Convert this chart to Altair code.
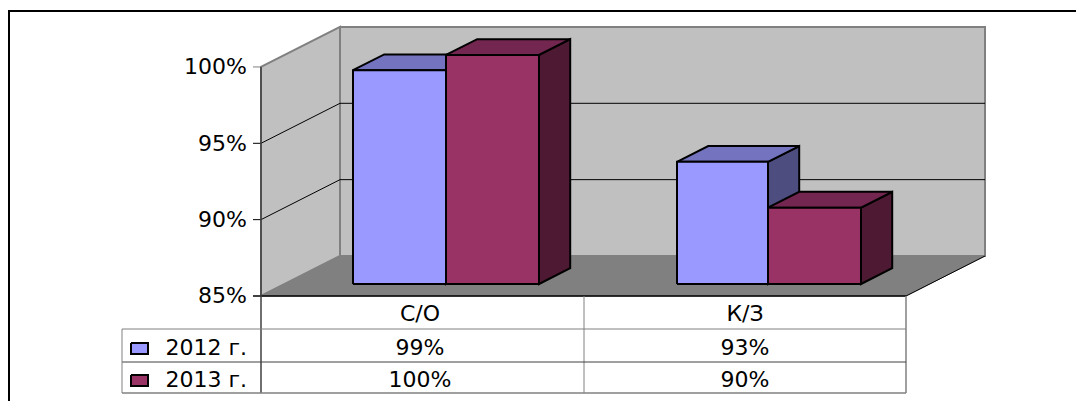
import altair as alt
import pandas as pd

# ---- data
categories = ["С/О", "К/З"]
series = ["2012 г.", "2013 г."]
values_2012 = [99, 93]
values_2013 = [100, 90]
axis_ticks = [85, 90, 95, 100]
fill_front = {"2012 г.": "#9999FF", "2013 г.": "#993366"}
fill_top = {"2012 г.": "#7373BF", "2013 г.": "#732650"}
fill_side = {"2012 г.": "#4D4D80", "2013 г.": "#4D1933"}

# ---- chart-space geometry: x in canvas units, y in percent
W, H = 1068, 393
PX = 15.27                 # canvas units per percent
Y_TOP = 85 + (296 - 8) / PX
Y_BOT = 85 - (8 + H - 296) / PX
LEFT, RIGHT = 253.0, 898.0  # front floor edge (canvas x)
BACK_DX, BACK_DY = 79.0, 40.0 / PX  # projection of full depth


def rowy(page_y):
    return 85 - (page_y - 296) / PX


def proj(x, v, d):
    return x + d * BACK_DX, v + d * BACK_DY


polys = []
def poly(pts, fill="transparent", stroke="#000000", sw=1.0):
    pid = len(polys)
    polys.append(pid)
    rows = []
    for i, (x, y) in enumerate(pts):
        rows.append(dict(pid=f"{pid:03d}", i=i, x=x, y=y, fill=fill, stroke=stroke, sw=sw))
    return rows


rows = []
# walls and floor
rows += poly([proj(LEFT, 85, 0), proj(LEFT, 100, 0), proj(LEFT, 100, 1), proj(LEFT, 85, 1), proj(LEFT, 85, 0)],
             "#C0C0C0", "#808080", 2)
rows += poly([proj(LEFT, 85, 1), proj(LEFT, 100, 1), proj(RIGHT, 100, 1), proj(RIGHT, 85, 1), proj(LEFT, 85, 1)],
             "#C0C0C0", "#808080", 2)
rows += poly([proj(LEFT, 85, 0), proj(LEFT, 85, 1), proj(RIGHT, 85, 1), proj(RIGHT, 85, 0), proj(LEFT, 85, 0)],
             "#808080", "#808080", 1)
rows += poly([proj(RIGHT, 85, 1), proj(RIGHT, 85, 0)], stroke="#000000", sw=1)
# gridlines
for t in axis_ticks[1:3]:
    rows += poly([(LEFT - 8, t), proj(LEFT, t, 0), proj(LEFT, t, 1), proj(RIGHT, t, 1)], sw=1)
rows += poly([(LEFT - 8, 85), (RIGHT, 85)], sw=1.5)
rows += poly([(LEFT - 8, 100), (LEFT, 100)], stroke="#808080", sw=1)

# bars
D0, D1 = 0.3, 0.695
BAR_X = [[321.3, 414.3, 507.3], [645.3, 736.3, 829.3]]
for c in range(2):
    for s, vals in enumerate([values_2012, values_2013]):
        name = series[s]
        v = vals[c]
        x0, x1 = BAR_X[c][s], BAR_X[c][s + 1]
        a = proj(x0, v, D0); b = proj(x1, v, D0); e = proj(x1, v, D1); f = proj(x0, v, D1)
        g = proj(x0, 85, D0); h = proj(x1, 85, D0); k = proj(x1, 85, D1)
        rows += poly([b, e, k, h, b], fill_side[name], "#000000", 2)
        rows += poly([a, f, e, b, a], fill_top[name], "#000000", 2)
        rows += poly([g, a, b, h, g], fill_front[name], "#000000", 2)

# data table lines
T1, T2, T3, T4 = rowy(296), rowy(329), rowy(362), rowy(393)
TL, TR, TM, TO = LEFT, RIGHT, 576.0, 114.0
rows += poly([(TL, rowy(67)), (TL, T4)], stroke="#404040", sw=1.5)
rows += poly([(TM, T1), (TM, T4)], stroke="#808080", sw=1)
rows += poly([(TR, T1), (TR, T4)], stroke="#808080", sw=1.5)
rows += poly([(TO, T2), (TR, T2)], stroke="#808080", sw=1)
rows += poly([(TO, T3), (TR, T3)], stroke="#404040", sw=1)
rows += poly([(TO, T4), (TR, T4)], stroke="#808080", sw=1.5)
rows += poly([(TO, T2), (TO, T4)], stroke="#808080", sw=1)

# legend keys
for s, name in enumerate(series):
    top, bot = rowy(343 + 32 * s), rowy(354 + 32 * s)
    rows += poly([(123, top), (140, top), (140, bot), (123, bot), (123, top)], fill_front[name], "#000000", 2)

# outer frame
rows += poly([(1, Y_BOT), (1, rowy(11)), (W, rowy(11))], stroke="#000000", sw=2)

df = pd.DataFrame(rows)

texts = []
for t in axis_ticks:
    texts.append(dict(x=239, y=t - 0.02, t=f"{t}%", a="right"))
centres = [412.0, 737.0]
for c, name in enumerate(categories):
    texts.append(dict(x=centres[c], y=rowy(313.5), t=name, a="center"))
    texts.append(dict(x=centres[c], y=rowy(348), t=f"{values_2012[c]}%", a="center"))
    texts.append(dict(x=centres[c], y=rowy(380), t=f"{values_2013[c]}%", a="center"))
for s, name in enumerate(series):
    texts.append(dict(x=239, y=rowy(348 + 32 * s), t=name, a="right"))
tdf = pd.DataFrame(texts)

xs = alt.Scale(domain=[0, W], range=[0, W], nice=False, zero=False)
ys = alt.Scale(domain=[Y_BOT, Y_TOP], range=[H, 0], nice=False, zero=False)

shapes = alt.Chart(df).mark_line(interpolate="linear", strokeJoin="miter", clip=False).encode(
    x=alt.X("x:Q", scale=xs, axis=None),
    y=alt.Y("y:Q", scale=ys, axis=None),
    order=alt.Order("i:Q"),
    detail="pid:N",
    fill=alt.Fill("fill:N", scale=None),
    stroke=alt.Stroke("stroke:N", scale=None),
    strokeWidth=alt.StrokeWidth("sw:Q", scale=None),
)

def text_layer(align):
    return alt.Chart(tdf[tdf.a == align]).mark_text(
        font="DejaVu Sans", fontSize=22, color="#000000", align=align, baseline="middle"
    ).encode(
        x=alt.X("x:Q", scale=xs, axis=None),
        y=alt.Y("y:Q", scale=ys, axis=None),
        text="t:N",
    )

chart = alt.layer(shapes, text_layer("right"), text_layer("center")).properties(
    width=W, height=H, padding=0, autosize=alt.AutoSizeParams(type="none"),
    background="#FFFFFF",
).configure_view(stroke=None)

chart.save("out.html", embed_options={"renderer": "svg", "actions": False})
